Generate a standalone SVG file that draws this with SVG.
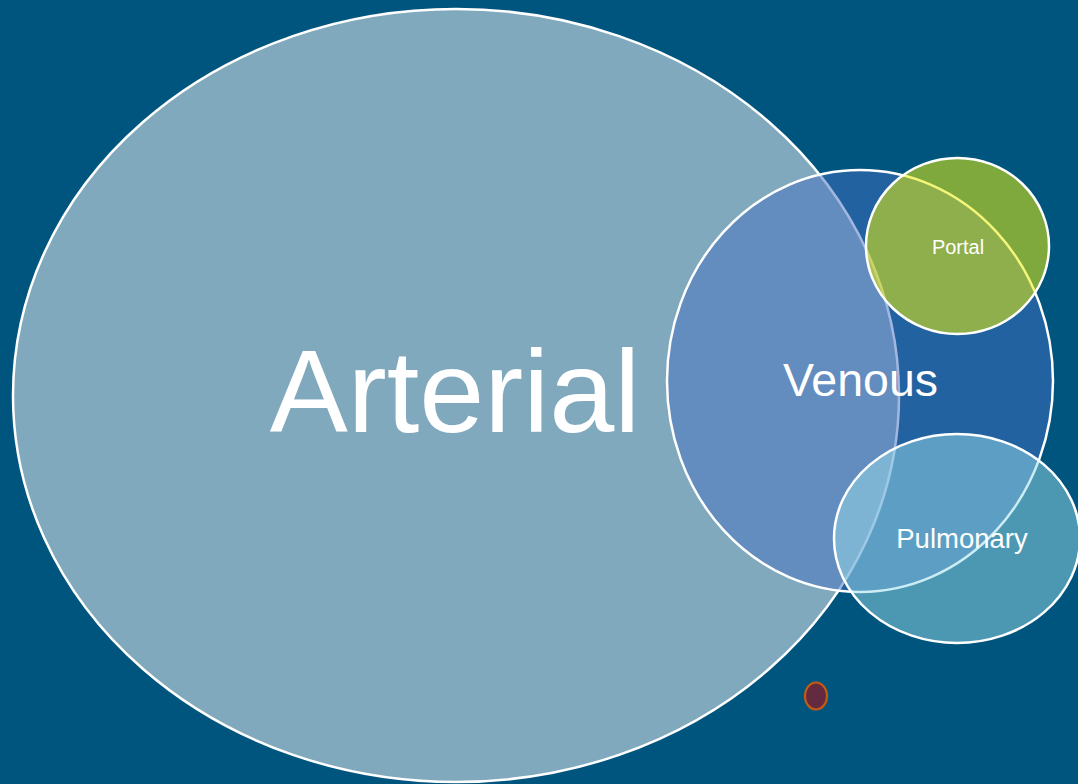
<svg xmlns="http://www.w3.org/2000/svg" width="1078" height="784" viewBox="0 0 1078 784">
<style>
.shape{stroke:#FFFFFF;stroke-width:2.5}
.lbl{fill:#FFFFFF;font-family:"Liberation Sans",Arial,sans-serif;text-anchor:middle}
</style>
<rect x="0" y="0" width="1078" height="784" fill="#00557F"/>
<g id="arterial">
<ellipse class="shape" cx="456" cy="395.5" rx="443" ry="386.5" fill="#80A9BD"/>
<text class="lbl" x="455" y="432" font-size="117">Arterial</text>
</g>
<g id="venous">
<ellipse class="shape" cx="860" cy="381" rx="193" ry="211" fill="#4670C1" fill-opacity="0.5"/>
<text class="lbl" x="860.5" y="396" font-size="46.5">Venous</text>
</g>
<g id="portal">
<ellipse class="shape" cx="957.5" cy="246" rx="91.5" ry="88" fill="#EBEF05" fill-opacity="0.54"/>
<text class="lbl" x="958" y="254" font-size="20">Portal</text>
</g>
<g id="pulmonary">
<ellipse class="shape" cx="957" cy="538.5" rx="123" ry="104.5" fill="#98DBE7" fill-opacity="0.5"/>
<text class="lbl" x="962" y="548" font-size="27.5">Pulmonary</text>
</g>
<g id="dot">
<ellipse cx="816" cy="696" rx="11" ry="13.5" fill="#632A40" stroke="#C55A11" stroke-width="2.2"/>
</g>
</svg>
